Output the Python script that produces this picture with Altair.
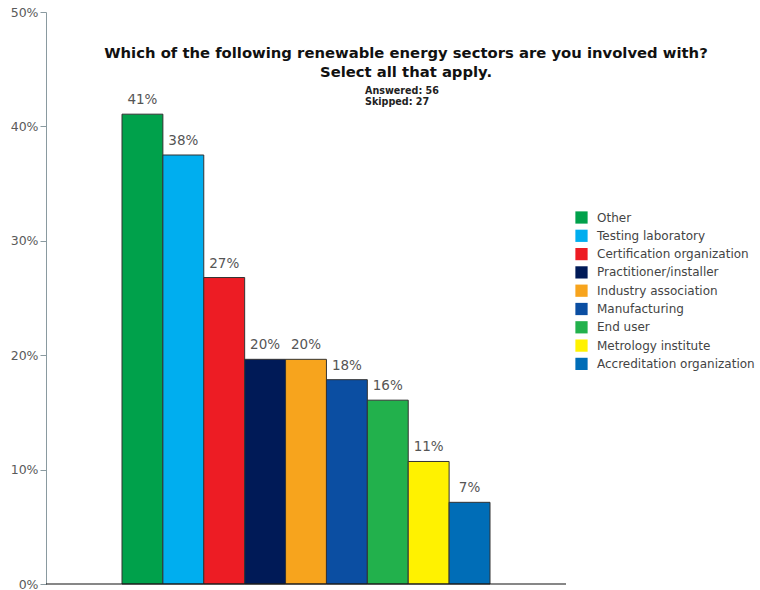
import altair as alt
import pandas as pd

categories = ["Other", "Testing laboratory", "Certification organization",
              "Practitioner/installer", "Industry association", "Manufacturing",
              "End user", "Metrology institute", "Accreditation organization"]
values = [41.07, 37.5, 26.79, 19.64, 19.64, 17.86, 16.07, 10.71, 7.14]
labels = ["41%", "38%", "27%", "20%", "20%", "18%", "16%", "11%", "7%"]
colors = ["#00a14b", "#00aeef", "#ed1c24", "#001a57", "#f7a41d",
          "#0b4ea2", "#22b14c", "#fff200", "#006db7"]
y_ticks = [0, 10, 20, 30, 40, 50]

title_lines = ["Which of the following renewable energy sectors are you involved with?",
               "Select all that apply."]
stats_lines = ["Answered: 56", "Skipped: 27"]

FONT = "DejaVu Sans"

df = pd.DataFrame({"cat": categories, "val": values, "lab": labels})

xscale = alt.Scale(domain=categories, range=[76, 444], paddingInner=0, paddingOuter=0)
x = alt.X("cat:N", sort=categories, scale=xscale, axis=None)
y = alt.Y("val:Q", scale=alt.Scale(domain=[0, 50], nice=False),
          axis=alt.Axis(title=None, values=y_ticks, labelExpr="datum.value + '%'",
                        grid=False, tickSize=6, tickColor="#8a9aa0", domainColor="#8a9aa0",
                        labelColor="#5a5a5a", labelFontSize=12.5, labelFont=FONT,
                        labelPadding=2))

bars = alt.Chart(df).mark_bar(stroke="#333333", strokeWidth=1).encode(
    x=x, y=y,
    color=alt.Color("cat:N", sort=categories,
                    scale=alt.Scale(domain=categories, range=colors),
                    legend=alt.Legend(title=None, orient="none", legendX=529, legendY=199,
                                      symbolType="square", symbolSize=150,
                                      symbolStrokeWidth=0, labelFontSize=12,
                                      labelFont=FONT, labelColor="#444444",
                                      rowPadding=5.3, labelOffset=9, padding=0))
)

text = alt.Chart(df).mark_text(baseline="bottom", dy=-7, fontSize=13.5, font=FONT,
                               color="#555555").encode(
    x=alt.X("cat:N", sort=categories, scale=xscale, axis=None), y="val:Q", text="lab:N")

baseline = alt.Chart(pd.DataFrame({"t": [0]})).mark_rule(
    color="#111111", strokeWidth=1.2).encode(
    x=alt.value(0), x2=alt.value(520), y=alt.value(572))

title = alt.Chart(pd.DataFrame({"t": [0]})).mark_text(
    text=title_lines, fontSize=14.8, fontWeight="bold", font=FONT, color="#111111",
    align="center", baseline="middle", lineHeight=19).encode(
    x=alt.value(360), y=alt.value(41.5))

stats = alt.Chart(pd.DataFrame({"t": [0]})).mark_text(
    text=stats_lines, fontSize=9.6, fontWeight="bold", font=FONT, color="#222222",
    align="left", baseline="middle", lineHeight=11).encode(
    x=alt.value(319), y=alt.value(79))

chart = alt.layer(bars, text, baseline, title, stats).properties(
    width=520, height=572,
    autosize=alt.AutoSizeParams(type="none"),
    padding={"left": 46, "top": 12, "right": 194, "bottom": 6},
).configure(background="white").configure_view(stroke=None)

chart.save("out.html", embed_options={"renderer": "svg", "actions": False})
